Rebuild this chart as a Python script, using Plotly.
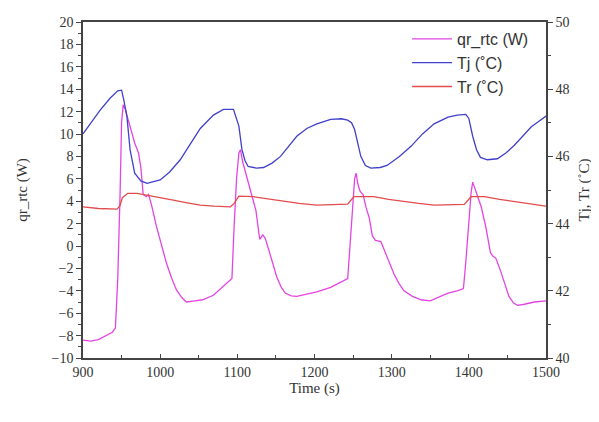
import plotly.graph_objects as go

# ---- data ----
t_qr = [900, 910, 920, 930, 938, 942, 945, 948, 950, 952, 955, 958, 961, 967, 972, 975, 978, 982, 985, 989,
        995, 1000, 1008, 1015, 1021, 1028, 1034, 1045, 1055, 1069, 1080, 1090, 1093, 1096, 1099, 1102, 1104,
        1107, 1114, 1120, 1124, 1127, 1129, 1133, 1136, 1141, 1146, 1151, 1157, 1162, 1170, 1177, 1190, 1203,
        1221, 1235, 1243, 1246, 1249, 1252, 1254, 1256, 1259, 1263, 1267, 1271, 1275, 1279, 1286, 1290, 1297,
        1303, 1310, 1316, 1327, 1338, 1350, 1362, 1373, 1385, 1393, 1396, 1399, 1403, 1405, 1407, 1411, 1416,
        1422, 1428, 1431, 1435, 1441, 1447, 1452, 1458, 1463, 1472, 1485, 1500]
qr = [-8.4, -8.5, -8.35, -8.0, -7.7, -7.3, -3.0, 4.5, 11.0, 12.6, 12.2, 11.4, 10.6, 9.2, 8.3, 7.0, 4.6, 4.4,
      4.6, 3.6, 1.8, 0.6, -1.5, -2.9, -3.9, -4.6, -5.0, -4.9, -4.8, -4.4, -3.7, -3.1, -2.9, 2.0, 6.0, 8.3, 8.6,
      7.5, 5.6, 4.2, 3.2, 1.3, 0.6, 1.0, 0.7, -0.4, -1.6, -2.75, -3.7, -4.2, -4.45, -4.5, -4.3, -4.1,
      -3.7, -3.2, -2.9, 0.0, 2.6, 6.0, 6.5, 5.6, 4.9, 4.6, 3.4, 2.5, 0.9, 0.5, 0.4, -0.3, -1.6,
      -2.5, -3.4, -4.0, -4.5, -4.8, -4.9, -4.5, -4.2, -4.0, -3.8, -1.5, 1.5, 4.8, 5.7, 5.3, 4.6, 3.5,
      1.7, -0.6, -0.9, -1.1, -2.2, -3.5, -4.5, -5.1, -5.3, -5.2, -5.0, -4.9]

t_tj = [900, 910, 922, 935, 945, 950, 953, 957, 961, 967, 975, 983, 1000, 1012, 1026, 1040, 1052, 1069, 1082,
        1095, 1100, 1102, 1106, 1110, 1114, 1125, 1134, 1145, 1156, 1167, 1177, 1190, 1203, 1221, 1235, 1243,
        1248, 1252, 1256, 1260, 1266, 1273, 1285, 1294, 1310, 1325, 1340, 1355, 1373, 1385, 1396, 1400, 1405,
        1410, 1415, 1424, 1437, 1448, 1459, 1470, 1481, 1490, 1500]
tj = [46.67, 47.0, 47.37, 47.73, 47.95, 47.97, 47.67, 47.17, 46.2, 45.5, 45.27, 45.2, 45.3, 45.53, 45.9, 46.4,
      46.83, 47.23, 47.4, 47.4, 47.07, 46.9, 46.2, 45.87, 45.7, 45.65, 45.67, 45.8, 46.0, 46.3, 46.6, 46.83,
      46.97, 47.1, 47.12, 47.08, 47.0, 46.8, 46.4, 46.0, 45.73, 45.65, 45.67, 45.73, 46.0, 46.3, 46.67,
      46.97, 47.17, 47.23, 47.25, 47.13, 46.6, 46.2, 45.97, 45.9, 45.93, 46.1, 46.33, 46.6, 46.88, 47.03, 47.2]

t_tr = [900, 920, 944, 948, 951, 958, 970, 983, 1000, 1017, 1035, 1052, 1070, 1091, 1096, 1102, 1121, 1140,
        1156, 1180, 1203, 1225, 1243, 1251, 1277, 1296, 1316, 1335, 1355, 1375, 1394, 1403, 1420, 1440, 1459,
        1480, 1500]
tr = [44.5, 44.45, 44.43, 44.53, 44.77, 44.9, 44.9, 44.85, 44.78, 44.7, 44.62, 44.55, 44.52, 44.5, 44.6, 44.82,
      44.8, 44.73, 44.68, 44.6, 44.55, 44.57, 44.58, 44.8, 44.8, 44.72, 44.65, 44.6, 44.55, 44.56, 44.57, 44.8,
      44.8, 44.72, 44.65, 44.58, 44.52]

x_ticks = [900, 1000, 1100, 1200, 1300, 1400, 1500]
y_left_ticks = list(range(-10, 21, 2))
y_right_ticks = list(range(40, 51, 2))

serif = "Liberation Serif, Times New Roman, serif"
sans = "Liberation Sans, Arial, sans-serif"
axis_col = "#444444"
txt_col = "#333333"

fig = go.Figure()
fig.add_trace(go.Scatter(x=t_qr, y=qr, mode="lines", name="qr_rtc (W)",
                         line=dict(color="#e444e4", width=1.3), yaxis="y"))
fig.add_trace(go.Scatter(x=t_tj, y=tj, mode="lines", name="Tj (˚C)",
                         line=dict(color="#4040cc", width=1.3), yaxis="y2"))
fig.add_trace(go.Scatter(x=t_tr, y=tr, mode="lines", name="Tr (˚C)",
                         line=dict(color="#e24c4c", width=1.3), yaxis="y2"))

common_axis = dict(showline=True, linecolor=axis_col, linewidth=1.5,
                   tickcolor=axis_col, showgrid=False, zeroline=False, automargin=False,
                   tickfont=dict(family=serif, size=14, color=txt_col))

fig.update_layout(
    width=591, height=414,
    margin=dict(l=75, r=53, t=14, b=64),
    paper_bgcolor="white", plot_bgcolor="white",
    showlegend=True,
    legend=dict(x=0.70, y=1.0, xanchor="left", yanchor="top", bgcolor="rgba(0,0,0,0)",
                font=dict(family=sans, size=16, color=txt_col),
                tracegroupgap=0, itemwidth=40),
    xaxis=dict(range=[900, 1500], tickvals=x_ticks, mirror=True, ticks="inside", ticklen=4,
               minor=dict(dtick=50, ticks="inside", ticklen=3, tickcolor=axis_col),
               title=dict(text="Time (s)", font=dict(family=serif, size=15, color=txt_col), standoff=0),
               **common_axis),
    yaxis=dict(range=[-10, 20], tickvals=y_left_ticks, ticks="outside", ticklen=5,
               minor=dict(dtick=1, ticks="outside", ticklen=3, tickcolor=axis_col),
               title=dict(text="qr_rtc (W)", font=dict(family=serif, size=15, color=txt_col), standoff=20),
               **common_axis),
    yaxis2=dict(range=[40, 50], tickvals=y_right_ticks, overlaying="y", side="right",
                ticks="outside", ticklen=5,
                minor=dict(dtick=1, ticks="outside", ticklen=3, tickcolor=axis_col),
                title=dict(text="Tj, Tr (˚C)", font=dict(family=serif, size=15, color=txt_col), standoff=10),
                **common_axis),
)

fig.write_html("out.html")
